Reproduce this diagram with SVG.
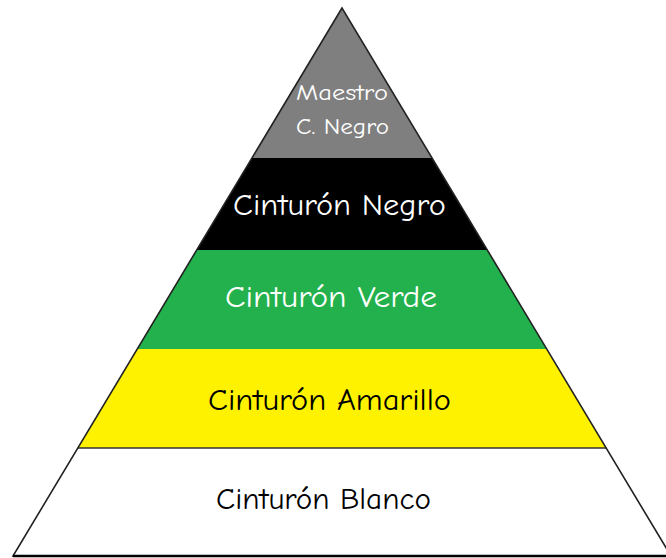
<svg xmlns="http://www.w3.org/2000/svg" width="666" height="558" viewBox="0 0 666 558">
<style>
.lbl{font-family:"Comic Neue","Liberation Sans","DejaVu Sans",sans-serif;font-size:30px}
.sm{font-size:23px}
.w{fill:#ffffff}
.k{fill:#000000}
.sep{stroke:#333333;stroke-width:1.5}
</style>
<defs>
<clipPath id="tri"><polygon points="342,8 13,556 671,556"/></clipPath>
</defs>
<rect width="666" height="558" fill="#ffffff"/>
<g clip-path="url(#tri)">
<g id="maestro"><rect x="0" y="0" width="666" height="158" fill="#7f7f7f"/></g>
<g id="negro"><rect x="0" y="158" width="666" height="92" fill="#000000"/></g>
<g id="verde"><rect x="0" y="250" width="666" height="99" fill="#22b14c"/></g>
<g id="amarillo"><rect x="0" y="349" width="666" height="99" fill="#fff200"/></g>
<g id="blanco"><rect x="0" y="448" width="666" height="110" fill="#ffffff"/></g>
<line class="sep" x1="0" y1="448" x2="666" y2="448"/>
</g>
<polygon points="342,8 13,556 671,556" fill="none" stroke="#222222" stroke-width="1.6"/>
<line x1="13" y1="556" x2="666" y2="556" stroke="#000" stroke-width="2.5"/>
<g id="labels">
<text class="lbl sm w" x="296" y="100" textLength="92" lengthAdjust="spacingAndGlyphs">Maestro</text>
<text class="lbl sm w" x="296" y="134" textLength="93" lengthAdjust="spacingAndGlyphs">C. Negro</text>
<text class="lbl w" x="233" y="215" textLength="213" lengthAdjust="spacingAndGlyphs">Cinturón Negro</text>
<text class="lbl w" x="225" y="307" textLength="212" lengthAdjust="spacingAndGlyphs">Cinturón Verde</text>
<text class="lbl k" x="208" y="410" textLength="243" lengthAdjust="spacingAndGlyphs">Cinturón Amarillo</text>
<text class="lbl k" x="216" y="509" textLength="215" lengthAdjust="spacingAndGlyphs">Cinturón Blanco</text>
</g>
</svg>
